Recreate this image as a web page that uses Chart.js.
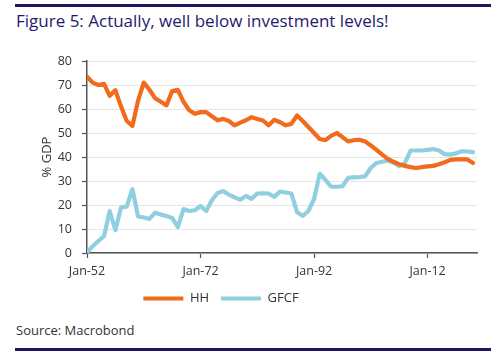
<!DOCTYPE html>
<html>
<head>
<meta charset="utf-8">
<script src="https://cdn.jsdelivr.net/npm/chart.js@4.4.1/dist/chart.umd.min.js"></script>
<style>
  html, body { margin: 0; padding: 0; background: #ffffff; }
  body { width: 500px; height: 355px; position: relative; overflow: hidden; font-family: "Open Sans", sans-serif; }
  .rule { position: absolute; left: 15px; width: 476px; height: 3px; background: #1c1660; }
  #title { position: absolute; left: 16px; top: 9px; font-size: 17px; color: #1f1a6e; white-space: nowrap; }
  #source { position: absolute; left: 16px; top: 321px; font-size: 13px; color: #333333; white-space: nowrap; }
  #wrap { position: absolute; left: 0; top: 50px; width: 500px; height: 265px; }
</style>
</head>
<body>
<div class="rule" style="top:4px"></div>
<div id="title">Figure 5: Actually, well below investment levels!</div>
<div id="wrap"><canvas id="c"></canvas></div>
<div id="source">Source: Macrobond</div>
<div class="rule" style="top:348px"></div>
<script>
const years = [1952,1953,1954,1955,1956,1957,1958,1959,1960,1961,1962,1963,1964,1965,1966,1967,1968,1969,1970,1971,
  1972,1973,1974,1975,1976,1977,1978,1979,1980,1981,1982,1983,1984,1985,1986,1987,1988,1989,1990,1991,
  1992,1993,1994,1995,1996,1997,1998,1999,2000,2001,2002,2003,2004,2005,2006,2007,2008,2009,2010,2011,
  2012,2013,2014,2015,2016,2017,2018,2019,2020];
const hh = [73.5,71,70,70.5,65.5,67.8,61,55,53,63.5,71,68,64.5,63,61.5,67.5,68,63,59.5,58,
  58.7,58.7,57,55.3,55.9,55,53.2,54.3,55.3,56.6,55.8,55.2,53.2,55.5,54.5,53.2,53.8,57.3,55,52.5,
  50,47.5,47,48.8,50,48.3,46.5,47,47.2,46.5,44.8,43,41,39.2,38,37,36.3,35.8,35.4,35.8,
  36.1,36.3,37,37.8,38.8,39,39,39,37.5];
const gfcf = [0.3,2.8,5,7,17.5,9.5,19,19.3,26.6,15.2,14.8,14.2,16.8,16,15.4,14.6,10.8,18.3,17.5,17.8,
  19.6,17.5,22,25,25.8,24.3,23.2,22.2,23.8,22.6,24.8,24.9,24.8,23.4,25.6,25.2,24.8,17,15.5,17.5,
  22.5,33,30.5,27.6,27.6,27.8,31.3,31.5,31.6,32,35.5,37.5,38,38.5,37.6,36.2,37.5,42.7,42.7,42.7,
  43,43.3,42.7,41.2,41,41.5,42.4,42.3,42];
const seriesNames = ['HH', 'GFCF'];
const xTickYears = [1952, 1972, 1992, 2012];
const xTickLabels = ['Jan-52', 'Jan-72', 'Jan-92', 'Jan-12'];
const yTicks = [0,10,20,30,40,50,60,70,80];

const toPts = vals => vals.map((v, i) => ({ x: years[i], y: v }));
const ORANGE = '#f26a1b';
const BLUE = '#8fcfe0';
const AXIS = '#555555';
const FONT = { family: '"Open Sans", sans-serif', size: 12.5 };

const legendShift = {
  id: 'legendShift',
  afterLayout(chart) {
    const lg = chart.legend;
    if (lg) { lg.left -= 37; lg.right -= 37; }
  }
};

new Chart(document.getElementById('c'), {
  type: 'line',
  data: {
    datasets: [
      { label: seriesNames[0], data: toPts(hh), borderColor: ORANGE, backgroundColor: ORANGE, borderWidth: 4.2, pointRadius: 0, tension: 0, borderJoinStyle: 'round', borderCapStyle: 'round' },
      { label: seriesNames[1], data: toPts(gfcf), borderColor: BLUE, backgroundColor: BLUE, borderWidth: 4.2, pointRadius: 0, tension: 0, borderJoinStyle: 'round', borderCapStyle: 'round' }
    ]
  },
  options: {
    responsive: true,
    maintainAspectRatio: false,
    animation: false,
    layout: { padding: { left: 39, right: 23, top: 11, bottom: 0 } },
    scales: {
      x: {
        type: 'linear',
        min: 1952,
        max: 2020.7,
        afterBuildTicks: s => { s.ticks = xTickYears.map(v => ({ value: v })); },
        afterFit: s => { s.height = 27; },
        ticks: {
          autoSkip: false, maxRotation: 0, color: '#333333', font: FONT, padding: 6,
          callback: (v) => xTickLabels[xTickYears.indexOf(v)]
        },
        grid: { drawOnChartArea: false, drawTicks: true, tickLength: 5, tickColor: AXIS, tickWidth: 1.2 },
        border: { display: true, color: AXIS, width: 1.5 }
      },
      y: {
        min: 0,
        max: 80,
        afterBuildTicks: s => { s.ticks = yTicks.map(v => ({ value: v })); },
        afterFit: s => { s.width = 48; s.paddingTop = 0; s.paddingBottom = 0; },
        ticks: { color: '#333333', font: FONT, padding: 10 },
        title: { display: true, text: '% GDP', color: '#333333', font: { family: '"Open Sans", sans-serif', size: 13 }, padding: { top: 0, bottom: 0 } },
        grid: { color: '#e6e6e6', lineWidth: 1, drawTicks: true, tickLength: 5, tickColor: AXIS, tickWidth: 1.2 },
        border: { display: true, color: AXIS, width: 1.5 }
      }
    },
    plugins: {
      legend: {
        position: 'bottom',
        labels: {
          boxWidth: 40, boxHeight: 4, padding: 12, color: '#333333',
          font: { family: '"Open Sans", sans-serif', size: 13 },
          generateLabels: chart => Chart.defaults.plugins.legend.labels.generateLabels(chart).map(l => Object.assign(l, { lineWidth: 0 }))
        }
      },
      tooltip: { enabled: false }
    }
  },
  plugins: [legendShift]
});
</script>
</body>
</html>
